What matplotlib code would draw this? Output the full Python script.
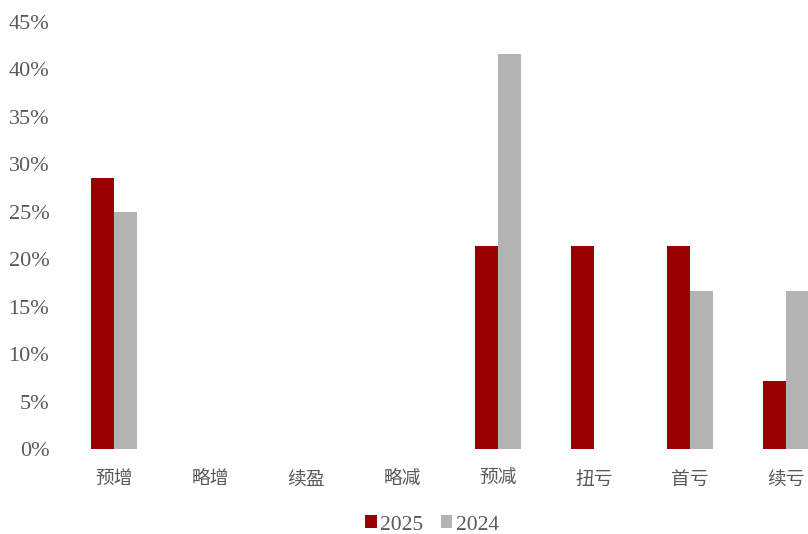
import numpy as np
import matplotlib.pyplot as plt
from matplotlib.ticker import FuncFormatter

# categories and shares (%)
categories = ['预增', '略增', '续盈', '略减', '预减', '扭亏', '首亏', '续亏']
share_2025 = [28.57, 0, 0, 0, 21.43, 21.43, 21.43, 7.14]
share_2024 = [25.0, 0, 0, 0, 41.67, 0, 16.67, 16.67]
yticks = [0, 5, 10, 15, 20, 25, 30, 35, 40, 45]

plt.rcParams['font.family'] = ['Liberation Serif', 'Noto Sans CJK SC']
grey = '#595959'

fig = plt.figure(figsize=(8.08, 5.34), dpi=100)
ax = fig.add_axes([66/808, (534-449)/534, 1 - 66/808, (449-22)/534])

x = np.arange(len(categories))
w = 0.24
ax.bar(x - w/2, share_2025, w, color='#990000', label='2025')
ax.bar(x + w/2, share_2024, w, color='#b3b3b3', label='2024')

ax.set_xlim(-0.5, 7.23)
ax.set_ylim(0, 45)
ax.set_yticks(yticks)
ax.yaxis.set_major_formatter(FuncFormatter(lambda v, p: f'{v:.0f}%'))
ax.set_xticks(x)
ax.set_xticklabels(categories, family=['Noto Sans CJK SC'], fontsize=13.5, color=grey)
for lab in ax.get_yticklabels():
    lab.set_fontsize(16)
    lab.set_color(grey)
ax.tick_params(axis='both', length=0)
ax.tick_params(axis='y', pad=12)
ax.tick_params(axis='x', pad=14)
for s in ax.spines.values():
    s.set_visible(False)

fig.legend(loc='center', bbox_to_anchor=(432/808, 1 - 525/534), ncol=2, frameon=False,
           fontsize=15.5, labelcolor=grey, handlelength=0.55, handleheight=0.55,
           handletextpad=0.15, columnspacing=0.8)

fig.savefig('out.png', dpi=100)
